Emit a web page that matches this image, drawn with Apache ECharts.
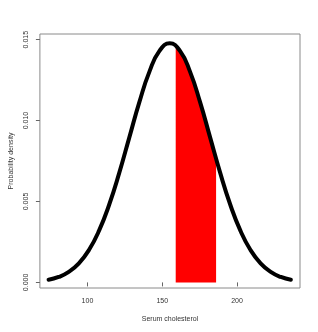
<!DOCTYPE html>
<html><head><meta charset="utf-8">
<script src="https://cdn.jsdelivr.net/npm/echarts@6/dist/echarts.min.js"></script>
<style>html,body{margin:0;padding:0;background:#fff}#c{width:318px;height:332px}</style>
</head><body><div id="c"></div>
<script>
// Density curve
const curveX = [74, 80.75, 87.5, 94.25, 101, 107.75, 114.5, 121.25, 128, 134.75, 141.5, 148.25, 155,
  161.75, 168.5, 175.25, 182, 188.75, 195.5, 202.25, 209, 215.75, 222.5, 229.25, 236];
const curveY = [0.000164, 0.000337, 0.000649, 0.001176, 0.002000, 0.003196, 0.004797, 0.006765, 0.008962,
  0.011154, 0.013040, 0.014321, 0.014776, 0.014321, 0.013040, 0.011154, 0.008962, 0.006765, 0.004797,
  0.003196, 0.002000, 0.001176, 0.000649, 0.000337, 0.000164];
// Shaded region
const shadeX = [159, 161.75, 165, 168.5, 172, 175.25, 179, 182, 186];
const shadeY = [0.014615, 0.014321, 0.013796, 0.013040, 0.012120, 0.011154, 0.009953, 0.008962, 0.007644];
const xTicks = [100, 150, 200];
const yTicks = [0, 0.005, 0.010, 0.015];

const font = 'Liberation Sans, Arial, sans-serif';
const chart = echarts.init(document.getElementById('c'), null, {renderer: 'canvas'});
chart.setOption({
  animation: false,
  backgroundColor: '#fff',
  grid: {left: 35, top: 34, right: 18, bottom: 44, show: true, borderColor: '#8a8a8a', borderWidth: 1, backgroundColor: 'transparent'},
  xAxis: {
    type: 'value', min: 68.2, max: 242.1,
    name: 'Serum cholesterol', nameLocation: 'middle', nameGap: 28,
    nameTextStyle: {fontFamily: font, fontSize: 7, color: '#333'},
    axisLine: {show: false},
    splitLine: {show: false},
    axisTick: {show: true, length: 4, lineStyle: {color: '#666'}, customValues: xTicks},
    axisLabel: {fontFamily: font, fontSize: 7, color: '#333', margin: 10, customValues: xTicks,
      formatter: v => String(v)}
  },
  yAxis: {
    type: 'value', min: -0.000346, max: 0.01535,
    name: 'Probability density', nameLocation: 'middle', nameGap: 18, nameRotate: 90,
    nameTextStyle: {fontFamily: font, fontSize: 7, color: '#333'},
    axisLine: {show: false},
    splitLine: {show: false},
    axisTick: {show: true, length: 4, lineStyle: {color: '#666'}, customValues: yTicks},
    axisLabel: {fontFamily: font, fontSize: 7, color: '#333', margin: 10, rotate: 90, customValues: yTicks,
      formatter: v => v.toFixed(3)}
  },
  series: [
    {type: 'line', data: shadeX.map((x, i) => [x, shadeY[i]]), smooth: true, symbol: 'none',
      lineStyle: {width: 0}, areaStyle: {color: '#ff0000', opacity: 1, origin: 0}, z: 1},
    {type: 'line', data: curveX.map((x, i) => [x, curveY[i]]), smooth: true, symbol: 'none',
      lineStyle: {width: 4, color: '#000', cap: 'round'}, z: 2}
  ]
});
</script></body></html>
